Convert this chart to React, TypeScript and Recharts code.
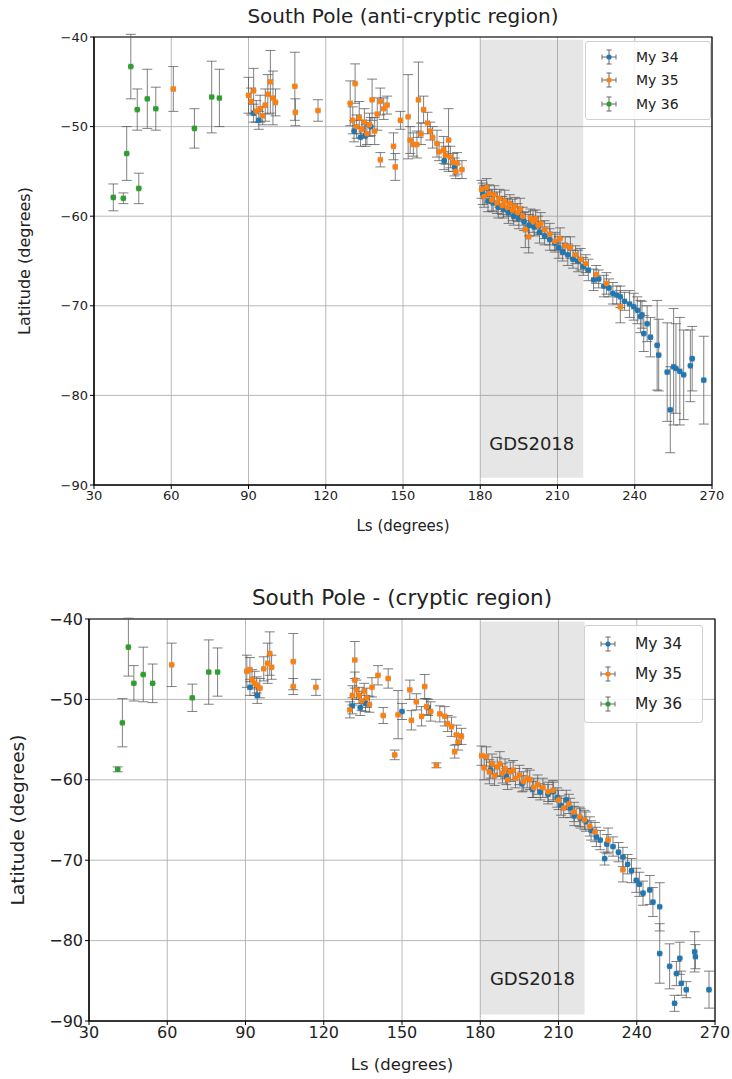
import {
  ScatterChart,
  Scatter,
  XAxis,
  YAxis,
  CartesianGrid,
  ErrorBar,
  ReferenceArea,
} from "recharts";

// Latitude of the seasonal cap edge vs solar longitude
// each row: [Ls (deg), latitude (deg), latitude error (deg)]
type Row = [number, number, number];

const LS_TICKS = [30, 60, 90, 120, 150, 180, 210, 240, 270];
const LAT_TICKS = [-90, -80, -70, -60, -50, -40];
const LS_ERR = 0.8;
const YEARS = ["My 34", "My 35", "My 36"];
const COLORS = ["#1f77b4", "#ff7f0e", "#2ca02c"];

// ---- anti-cryptic region ----
const antiMy34: Row[] = [
  [92, -48.5, 1.0], [94, -49.3, 1.0], [131, -50.5, 1.2], [133.5, -51.2, 1.0],
  [135.5, -51.0, 1.2], [137.5, -50.0, 1.0], [166, -53.8, 1.0], [170, -54.5, 1.0],
  [181, -57.5, 1.2], [183, -58.3, 1.2], [185, -58.5, 1.0], [187, -59.0, 1.2],
  [189, -59.2, 1.0], [191, -59.6, 1.2], [193, -60.0, 1.0], [195, -60.2, 1.2],
  [197, -60.6, 1.0], [199, -61.0, 1.2], [201, -61.2, 1.0], [203, -61.8, 1.2],
  [205, -62.2, 1.0], [207, -62.6, 1.2], [209, -63.0, 1.0], [210.5, -63.5, 1.2],
  [212, -64.0, 1.0], [214, -64.3, 1.2], [216, -64.8, 1.0], [218, -65.0, 1.2],
  [220, -65.6, 1.0], [222, -66.0, 1.2], [224, -67.1, 1.2], [226, -67.0, 1.0],
  [228, -67.8, 1.2], [230, -68.0, 1.0], [231.5, -68.6, 1.2], [233, -68.8, 1.0],
  [234.4, -69.0, 1.2], [236, -69.5, 1.0], [238, -69.8, 1.5], [239.6, -70.1, 1.5],
  [241, -70.5, 1.5], [242.2, -71.2, 1.8], [242.8, -71.0, 1.5], [243.5, -73.1, 2.0],
  [244.8, -72.0, 2.0], [246.1, -73.5, 2.2], [248.7, -74.4, 5.0], [249.3, -75.5, 4.0],
  [252.6, -77.4, 5.5], [253.8, -81.6, 4.8], [255.1, -76.8, 6.5], [256, -77.0, 5.0],
  [257.5, -77.3, 6.0], [259, -77.7, 5.0], [261.6, -76.7, 4.0], [262.3, -75.9, 3.6],
  [266.8, -78.3, 4.9],
];

const antiMy35: Row[] = [
  [60.8, -45.8, 2.5], [90, -46.5, 2.0], [91, -47.2, 1.5], [92, -46.0, 2.5],
  [93, -48.3, 1.2], [94.5, -48.0, 1.5], [95.5, -48.8, 1.0], [96.5, -47.6, 1.8],
  [97.5, -46.4, 2.2], [98.5, -45.0, 3.5], [99.5, -46.8, 3.0], [100.5, -47.3, 1.5],
  [108, -45.5, 3.8], [108.2, -48.4, 1.5], [117, -48.2, 1.2],
  [129.5, -47.4, 2.5], [131.4, -45.2, 2.2], [130.5, -49.3, 1.5], [132, -50.0, 1.3],
  [133, -49.0, 1.8], [134, -50.3, 1.0], [135, -49.5, 1.5], [136, -50.8, 1.2],
  [137, -49.8, 1.3], [138, -47.0, 2.3], [139, -50.5, 1.5], [140, -48.6, 1.8],
  [141.2, -47.2, 1.5], [142.5, -48.0, 1.2], [143.8, -47.6, 1.0], [141.2, -53.7, 0.8],
  [146.3, -52.2, 1.5], [147, -54.5, 1.5], [149, -49.3, 1.0], [152, -48.9, 4.7],
  [152.8, -51.5, 1.5], [154, -52.0, 1.3], [155.4, -52.0, 1.5], [156, -47.0, 4.2],
  [157, -50.8, 1.2], [158, -48.1, 1.5], [159.5, -49.6, 1.2], [160.6, -50.5, 1.0],
  [161.5, -51.2, 1.2], [163.2, -51.9, 1.5], [164, -52.8, 1.0], [165.8, -52.6, 1.5],
  [166.5, -53.2, 1.0], [167.7, -51.5, 3.5], [168.4, -53.4, 1.2], [169.5, -54.0, 1.0],
  [171, -54.1, 1.2], [172.9, -54.8, 1.0], [170.5, -55.0, 0.8],
  [180.5, -57.0, 1.0], [181.5, -57.8, 1.2], [182.5, -56.8, 1.0], [183.5, -57.5, 1.0],
  [184.5, -58.2, 1.2], [185.5, -57.6, 1.0], [186.5, -58.5, 1.2], [187.5, -58.0, 1.0],
  [188.5, -58.8, 1.0], [189.5, -58.3, 1.2], [190.5, -59.0, 1.0], [191.5, -58.6, 1.0],
  [192.5, -59.3, 1.2], [193.5, -58.9, 1.0], [194.5, -59.6, 1.0], [195.5, -59.2, 1.2],
  [196.5, -60.0, 1.0], [197.5, -61.5, 2.0], [198.8, -62.3, 1.8], [199.5, -60.2, 1.0],
  [200.5, -60.6, 1.2], [201.5, -60.3, 1.0], [202.5, -61.0, 1.0], [203.5, -60.8, 1.2],
  [205, -61.5, 1.0], [207, -62.0, 1.2], [209, -62.8, 1.0], [211, -62.5, 1.2],
  [213, -63.3, 1.0], [215, -63.5, 1.2], [217, -64.3, 1.0], [219, -64.8, 1.2],
  [221, -65.3, 1.0], [225, -66.5, 1.0], [229, -67.5, 1.2], [234.4, -70.1, 1.8],
];

const antiMy36: Row[] = [
  [37.5, -57.9, 1.5], [41.4, -58.0, 0.6], [42.7, -53.0, 3.0], [44.3, -43.3, 3.6],
  [46.8, -48.1, 2.3], [47.4, -56.9, 1.7], [50.7, -46.9, 3.3], [54.0, -48.0, 2.4],
  [69.0, -50.2, 2.2], [75.7, -46.7, 4.0], [78.7, -46.8, 3.2],
];

// ---- cryptic region ----
const crypMy34: Row[] = [
  [91.7, -48.5, 1.0], [94.5, -49.5, 1.0], [131, -50.8, 1.0], [134, -51.0, 1.0],
  [136, -50.5, 1.0], [150, -51.5, 1.0], [160, -51.0, 1.0],
  [184, -58.8, 1.0], [190, -59.6, 1.0], [196, -60.5, 1.0], [200, -61.2, 1.0],
  [203, -61.5, 1.0], [206, -61.8, 1.2], [208, -61.5, 1.2], [209.5, -62.2, 1.2],
  [211, -63.2, 1.2], [213, -62.5, 1.2], [214.5, -63.5, 1.2], [216, -64.5, 1.2],
  [218.5, -64.8, 1.2], [220.5, -65.2, 1.2], [222.5, -66.3, 1.2], [224.5, -67.1, 1.2],
  [226, -67.5, 1.2], [227.7, -69.8, 0.8], [228.5, -68.0, 1.2], [230.9, -68.3, 1.2],
  [233, -69.0, 1.2], [234.7, -69.6, 1.2], [236.5, -70.5, 1.2], [238, -71.3, 1.5],
  [239.8, -72.5, 1.5], [241, -73.0, 1.5], [242.4, -74.1, 1.5], [245, -73.7, 1.8],
  [246.2, -75.2, 1.8], [248.8, -75.8, 3.0], [248.8, -81.6, 3.7], [252.6, -83.2, 2.8],
  [254.5, -87.8, 1.0], [255.2, -84.1, 1.5], [256.5, -82.2, 2.0], [257.1, -85.3, 1.5],
  [259, -86.1, 1.0], [262.2, -81.4, 2.5], [262.5, -82.0, 1.5], [267.7, -86.1, 2.3],
];

const crypMy35: Row[] = [
  [61.7, -45.7, 2.7], [90.5, -46.5, 2.0], [91.7, -46.3, 1.5], [92.5, -47.5, 1.2],
  [93.5, -48.0, 1.5], [94.3, -48.2, 1.0], [95.5, -48.6, 1.2], [97, -46.2, 1.5],
  [98.5, -45.5, 2.5], [99.3, -44.3, 2.7], [100, -46.0, 1.5], [108.3, -45.3, 3.5],
  [108.3, -48.4, 1.0], [117, -48.5, 1.0],
  [130, -51.3, 1.0], [131, -49.5, 1.2], [131.9, -45.1, 2.3], [131.9, -47.6, 1.0],
  [132.5, -48.8, 1.2], [133.5, -49.5, 1.0], [134.5, -50.2, 1.2], [135.5, -49.0, 1.0],
  [136.5, -49.8, 1.2], [137.5, -50.6, 1.0], [138.5, -48.5, 1.2], [140.8, -47.0, 1.2],
  [142.8, -52.0, 1.0], [144.7, -47.4, 1.2], [148.5, -51.9, 3.0], [147.2, -56.9, 0.6],
  [153, -48.8, 1.2], [153.6, -52.6, 1.2], [155.5, -50.3, 1.0], [157.5, -52.1, 1.2],
  [158.7, -48.4, 1.5], [159.4, -50.9, 1.0], [161, -51.5, 1.2], [163.2, -58.2, 0.3],
  [164.5, -51.8, 1.0], [166.4, -52.1, 1.2], [167.5, -53.0, 1.0], [169, -53.4, 1.2],
  [170.2, -56.5, 0.8], [170.9, -54.4, 1.2], [172.8, -54.6, 1.0], [171.5, -55.3, 1.0],
  [180.5, -57.0, 1.2], [181.5, -58.5, 1.5], [182.4, -57.1, 1.2], [183.5, -59.0, 1.5],
  [184.5, -58.0, 1.2], [185.5, -59.5, 1.2], [186.5, -58.4, 1.2], [187.5, -58.0, 1.5],
  [188.5, -59.2, 1.2], [189.5, -58.6, 1.2], [190.5, -60.0, 1.2], [191.5, -59.0, 1.2],
  [192.6, -58.8, 1.2], [193.5, -59.8, 1.2], [195, -59.4, 1.2], [196.5, -60.2, 1.2],
  [198, -59.8, 1.2], [199, -60.0, 1.2], [200.5, -61.0, 1.2], [202, -60.6, 1.2],
  [204, -61.0, 1.2], [206, -61.5, 1.2], [207.9, -61.3, 1.2], [210, -62.5, 1.2],
  [212, -63.5, 1.2], [214, -63.0, 1.2], [216, -64.0, 1.2], [218.1, -64.6, 1.2],
  [220, -65.0, 1.2], [222, -65.8, 1.2], [224, -66.5, 1.2], [229, -67.5, 1.5],
  [234.7, -71.2, 1.5],
];

const crypMy36: Row[] = [
  [41.0, -58.7, 0.3], [42.8, -52.9, 3.0], [45.1, -43.5, 3.6], [47.2, -48.0, 2.2],
  [50.8, -46.9, 3.4], [54.4, -48.0, 2.4], [69.6, -49.8, 1.7], [75.9, -46.6, 4.0],
  [79.3, -46.6, 3.0],
];

const toPoints = (rows: Row[]) =>
  rows.map(([ls, lat, err]) => ({ ls, lat, yErr: err, xErr: LS_ERR }));

const fmt = (v: number) => (v < 0 ? "\u2212" + Math.abs(v) : String(v));

function ErrIcon({ color }: { color: string }) {
  return (
    <svg width={22} height={16} style={{ display: "block" }}>
      <g stroke="#666" strokeWidth={1}>
        <line x1={11} y1={1} x2={11} y2={15} />
        <line x1={8.5} y1={1} x2={13.5} y2={1} />
        <line x1={8.5} y1={15} x2={13.5} y2={15} />
        <line x1={4} y1={8} x2={18} y2={8} />
        <line x1={4} y1={5.5} x2={4} y2={10.5} />
        <line x1={18} y1={5.5} x2={18} y2={10.5} />
      </g>
      <circle cx={11} cy={8} r={2.6} fill={color} />
    </svg>
  );
}

interface PanelProps {
  title: string;
  series: Row[][];
  top: number;
  height: number;
  marginTop: number;
  yAxisWidth: number;
  marginRight: number;
  xAxisHeight: number;
  tickFont: number;
  xLabelFont: number;
  xLabelOffset: number;
  yLabelFont: number;
  yLabelOffset: number;
  titleFont: number;
  titleTop: number;
  legend: { left: number; top: number; width: number; rowH: number; font: number };
  gdsFont: number;
  gdsOffset: number;
}

function Panel(p: PanelProps) {
  const plotLeft = p.yAxisWidth;
  const plotRight = 732 - p.marginRight;
  return (
    <div style={{ position: "absolute", left: 0, top: p.top, width: 732, height: p.height }}>
      <div
        style={{
          position: "absolute",
          top: p.titleTop,
          left: plotLeft,
          width: plotRight - plotLeft,
          textAlign: "center",
          fontSize: p.titleFont,
          lineHeight: 1.2,
          color: "#222",
        }}
      >
        {p.title}
      </div>
      <ScatterChart
        width={732}
        height={p.height}
        margin={{ top: p.marginTop, right: p.marginRight, bottom: 0, left: 0 }}
        style={{ fontFamily: "DejaVu Sans, sans-serif" }}
      >
        <CartesianGrid stroke="#b0b0b0" strokeWidth={0.9} horizontalValues={LAT_TICKS} verticalValues={LS_TICKS} />
        <ReferenceArea
          x1={180}
          x2={220}
          y1={-89.2}
          y2={-40.3}
          fill="#808080"
          fillOpacity={0.2}
          stroke="none"
          label={{
            value: "GDS2018",
            position: "insideBottom",
            offset: p.gdsOffset,
            fontSize: p.gdsFont,
            fill: "#222",
          }}
        />
        <XAxis
          type="number"
          dataKey="ls"
          domain={[30, 270]}
          ticks={LS_TICKS}
          allowDataOverflow
          height={p.xAxisHeight}
          tickSize={4}
          tickLine={{ stroke: "#000" }}
          axisLine={{ stroke: "#000" }}
          tick={{ fill: "#222", fontSize: p.tickFont }}
          label={{
            value: "Ls (degrees)",
            position: "insideBottom",
            offset: p.xLabelOffset,
            fontSize: p.xLabelFont,
            fill: "#222",
          }}
        />
        <YAxis
          type="number"
          dataKey="lat"
          domain={[-90, -40]}
          ticks={LAT_TICKS}
          allowDataOverflow
          width={p.yAxisWidth}
          tickSize={4}
          tickFormatter={fmt}
          tickLine={{ stroke: "#000" }}
          axisLine={{ stroke: "#000" }}
          tick={{ fill: "#222", fontSize: p.tickFont }}
          label={{
            value: "Latitude (degrees)",
            angle: -90,
            position: "insideLeft",
            offset: p.yLabelOffset,
            fontSize: p.yLabelFont,
            fill: "#222",
            style: { textAnchor: "middle" },
          }}
        />
        {p.series.map((rows, i) => (
          <Scatter
            key={YEARS[i]}
            name={YEARS[i]}
            data={toPoints(rows)}
            isAnimationActive={false}
            shape={(s: any) => <circle cx={s.cx} cy={s.cy} r={2.8} fill={COLORS[i]} />}
          >
            <ErrorBar dataKey="yErr" direction="y" width={5} stroke="#555" strokeOpacity={0.75} strokeWidth={1} />
            <ErrorBar dataKey="xErr" direction="x" width={3} stroke="#555" strokeOpacity={0.5} strokeWidth={1} />
          </Scatter>
        ))}
        {/* axes frame */}
        <ReferenceArea x1={30} x2={270} y1={-90} y2={-40} fill="none" stroke="#000" strokeWidth={1.2} />
      </ScatterChart>
      <div
        style={{
          position: "absolute",
          left: p.legend.left,
          top: p.legend.top,
          width: p.legend.width,
          padding: "3px 0",
          border: "1px solid #d0d0d0",
          borderRadius: 3,
          background: "rgba(255,255,255,0.85)",
        }}
      >
        {YEARS.map((y, i) => (
          <div
            key={y}
            style={{ display: "flex", alignItems: "center", height: p.legend.rowH, paddingLeft: 12 }}
          >
            <ErrIcon color={COLORS[i]} />
            <span style={{ marginLeft: 16, fontSize: p.legend.font, color: "#222" }}>{y}</span>
          </div>
        ))}
      </div>
    </div>
  );
}

export default function App() {
  return (
    <div
      style={{
        position: "absolute",
        left: 0,
        top: 0,
        width: 732,
        height: 1079,
        background: "#fff",
        fontFamily: "DejaVu Sans, sans-serif",
      }}
    >
      <Panel
        title="South Pole (anti-cryptic region)"
        series={[antiMy34, antiMy35, antiMy36]}
        top={0}
        height={545}
        marginTop={37}
        yAxisWidth={94}
        marginRight={20}
        xAxisHeight={60}
        tickFont={13}
        xLabelFont={15}
        xLabelOffset={14}
        yLabelFont={16}
        yLabelOffset={24}
        titleFont={20}
        titleTop={4}
        legend={{ left: 585, top: 41, width: 124, rowH: 23.5, font: 14 }}
        gdsFont={18}
        gdsOffset={28}
      />
      <Panel
        title="South Pole - (cryptic region)"
        series={[crypMy34, crypMy35, crypMy36]}
        top={545}
        height={534}
        marginTop={74}
        yAxisWidth={89}
        marginRight={17}
        xAxisHeight={58}
        tickFont={16}
        xLabelFont={16.5}
        xLabelOffset={9}
        yLabelFont={18.5}
        yLabelOffset={17}
        titleFont={21.5}
        titleTop={40}
        legend={{ left: 584, top: 80, width: 117, rowH: 30, font: 15.5 }}
        gdsFont={18}
        gdsOffset={30}
      />
    </div>
  );
}
